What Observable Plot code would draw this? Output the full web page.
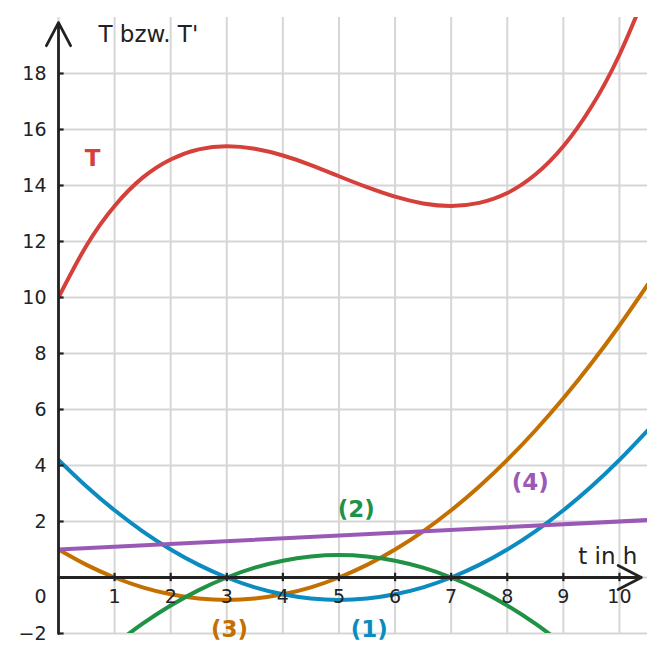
<!DOCTYPE html>
<html>
<head>
<meta charset="utf-8">
<script src="https://cdn.jsdelivr.net/npm/d3@7"></script>
<script src="https://cdn.jsdelivr.net/npm/@observablehq/plot@0.6"></script>
<style>
  body { margin: 0; background: #fff; }
</style>
</head>
<body>
<div id="chart"></div>
<script>
// Time in hours
const t = [0, 0.5, 1, 1.5, 2, 2.5, 3, 3.5, 4, 4.5, 5, 5.5, 6, 6.5, 7, 7.5, 8, 8.5, 9, 9.5, 10, 10.5];

// Temperature T
const tempT = [10, 11.86, 13.27, 14.28, 14.93, 15.29, 15.4, 15.31, 15.07, 14.73, 14.33, 13.94, 13.6, 13.36, 13.27, 13.38, 13.73, 14.39, 15.4, 16.81, 18.67, 21.03];

// Candidate rate curves (1), (2), (3)
const curve1 = [4.2, 3.25, 2.4, 1.65, 1.0, 0.45, 0, -0.35, -0.6, -0.75, -0.8, -0.75, -0.6, -0.35, 0, 0.45, 1.0, 1.65, 2.4, 3.25, 4.2, 5.25];
const curve2 = [-4.2, -3.25, -2.4, -1.65, -1.0, -0.45, 0, 0.35, 0.6, 0.75, 0.8, 0.75, 0.6, 0.35, 0, -0.45, -1.0, -1.65, -2.4, -3.25, -4.2, -5.25];
const curve3 = [1.0, 0.45, 0, -0.35, -0.6, -0.75, -0.8, -0.75, -0.6, -0.35, 0, 0.45, 1.0, 1.65, 2.4, 3.25, 4.2, 5.25, 6.4, 7.65, 9.0, 10.45];

// Candidate (4): straight line
const line4t = [0, 10.5];
const line4 = [1, 2.05];

// Tick labels
const xTicks = [1, 2, 3, 4, 5, 6, 7, 8, 9, 10];
const yTicks = [-2, 2, 4, 6, 8, 10, 12, 14, 16, 18];
const gridX = [0, 1, 2, 3, 4, 5, 6, 7, 8, 9, 10];
const gridY = [-2, 0, 2, 4, 6, 8, 10, 12, 14, 16, 18];

// Curve labels
const labelText = ["T", "(2)", "(4)", "(3)", "(1)"];
const labelT = [0.61, 5.31, 8.41, 3.05, 5.54];
const labelV = [14.96, 2.43, 3.39, -1.86, -1.86];

const colors = {
  T: "#d6403a",
  "(1)": "#0b8bbf",
  "(2)": "#1f9245",
  "(3)": "#c47000",
  "(4)": "#9b59b6"
};

const rows = [];
const addSeries = (key, xs, ys) => xs.forEach((x, i) => rows.push({key, t: x, v: ys[i]}));
addSeries("T", t, tempT);
addSeries("(1)", t, curve1);
addSeries("(2)", t, curve2);
addSeries("(3)", t, curve3);
addSeries("(4)", line4t, line4);

const labels = labelText.map((s, i) => ({s, t: labelT[i], v: labelV[i]}));

const ink = "#222";
const font = "DejaVu Sans";

const chart = Plot.plot({
  width: 664,
  height: 662,
  marginLeft: 58,
  marginRight: 17,
  marginTop: 17,
  marginBottom: 29,
  style: { fontFamily: font, fontSize: "19px", background: "white", color: ink },
  x: { domain: [0, 10.5], axis: null },
  y: { domain: [-2, 20], axis: null },
  marks: [
    // grid
    Plot.ruleX(gridX, { x: d => d, y1: -2, y2: 20, stroke: "#d6d6d6", strokeWidth: 2 }),
    Plot.ruleY(gridY, { y: d => d, x1: 0, x2: 10.5, stroke: "#d6d6d6", strokeWidth: 2 }),
    // curves
    ...["(3)", "(2)", "(1)", "(4)", "T"].map(k =>
      Plot.line(rows.filter(r => r.key === k), {
        x: "t", y: "v", curve: "natural", stroke: colors[k], strokeWidth: 4, clip: true
      })
    ),
    // axes with arrow heads
    Plot.arrow([{x1: 0, y1: 0, x2: 10.39, y2: 0}], {
      x1: "x1", y1: "y1", x2: "x2", y2: "y2", stroke: ink, strokeWidth: 2.8, headLength: 14, headAngle: 55
    }),
    Plot.arrow([{x1: 0, y1: -2, x2: 0, y2: 19.82}], {
      x1: "x1", y1: "y1", x2: "x2", y2: "y2", stroke: ink, strokeWidth: 2.8, headLength: 14, headAngle: 55
    }),
    // tick marks
    Plot.ruleX(xTicks, { x: d => d, y1: -0.15, y2: 0.15, stroke: ink, strokeWidth: 2.2 }),
    Plot.ruleY(yTicks, { y: d => d, x1: 0, x2: 0.1, stroke: ink, strokeWidth: 2.2 }),
    // tick labels
    Plot.text(xTicks, { x: d => d, y: 0, dy: 19, text: d => String(d), fill: ink, fontSize: 19 }),
    Plot.text(yTicks, { x: 0, y: d => d, dx: -12, textAnchor: "end", text: d => d < 0 ? "\u2212" + Math.abs(d) : String(d), fill: ink, fontSize: 19 }),
    Plot.text([0], { x: 0, y: 0, dx: -12, dy: 19, textAnchor: "end", text: d => String(d), fill: ink, fontSize: 19 }),
    // axis titles
    Plot.text(["T bzw. T'"], { x: 0.713, y: 19.39, textAnchor: "start", text: d => d, fill: ink, fontSize: 23 }),
    Plot.text(["t in h"], { x: 10.32, y: 0.75, textAnchor: "end", text: d => d, fill: ink, fontSize: 23 }),
    // curve labels
    Plot.text(labels, { x: "t", y: "v", text: "s", fill: d => colors[d.s], fontWeight: "bold", fontSize: 23 })
  ]
});

document.getElementById("chart").appendChild(chart);
</script>
</body>
</html>
